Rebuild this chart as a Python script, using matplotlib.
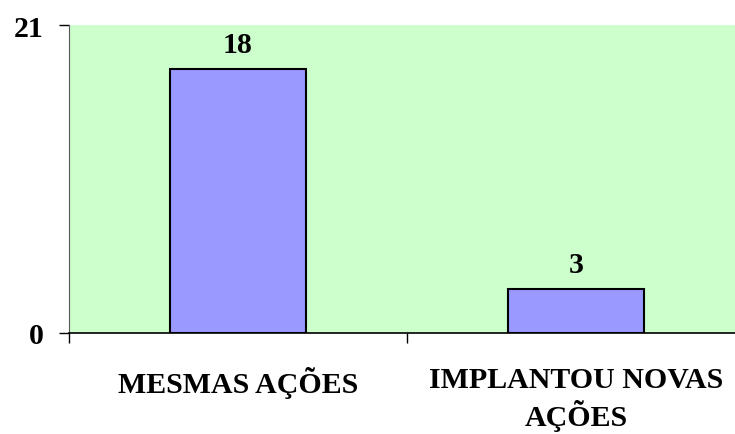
import matplotlib
matplotlib.use("Agg")
import matplotlib.pyplot as plt

categories = ["MESMAS AÇÕES", "IMPLANTOU NOVAS\nAÇÕES"]
values = [18, 3]
y_ticks = [0, 21]

plt.rcParams["font.family"] = ["Liberation Serif", "DejaVu Serif"]
plt.rcParams["font.weight"] = "bold"

fig = plt.figure(figsize=(7.35, 4.35), dpi=100)
ax = fig.add_axes([69 / 735, 1 - 334 / 435, 676 / 735, 308 / 435])
ax.set_facecolor("#CCFFCC")

positions = [i + 0.5 for i in range(len(categories))]
bars = ax.bar(positions, values, width=0.4, color="#9999FF",
              edgecolor="black", linewidth=1.5, zorder=3)

for x, v in zip(positions, values):
    ax.annotate(str(v), (x, v), xytext=(0, 8), textcoords="offset points",
                ha="center", va="bottom", fontsize=21.5, fontweight="bold")

ax.set_xlim(0, len(categories))
ax.set_ylim(y_ticks[0], y_ticks[-1])
ax.set_yticks(y_ticks)
ax.set_xticks(range(len(categories)))
ax.set_xticklabels([])
ax.set_xticks(positions, minor=True)
ax.set_xticklabels(categories, minor=True, fontsize=21.5, fontweight="bold",
                   linespacing=1.22)
ax.tick_params(axis="x", which="minor", length=0, pad=24)
ax.tick_params(axis="x", which="major", length=7.5, width=1, direction="out")
ax.tick_params(axis="y", length=7.5, width=1, direction="out", pad=11,
               labelsize=21.5)
for lab in ax.get_yticklabels():
    lab.set_fontweight("bold")

for side in ["top", "right"]:
    ax.spines[side].set_visible(False)
ax.spines["left"].set_color("#555555")
ax.spines["bottom"].set_color("black")
ax.spines["bottom"].set_linewidth(1.2)

fig.savefig("out.png", dpi=100)
